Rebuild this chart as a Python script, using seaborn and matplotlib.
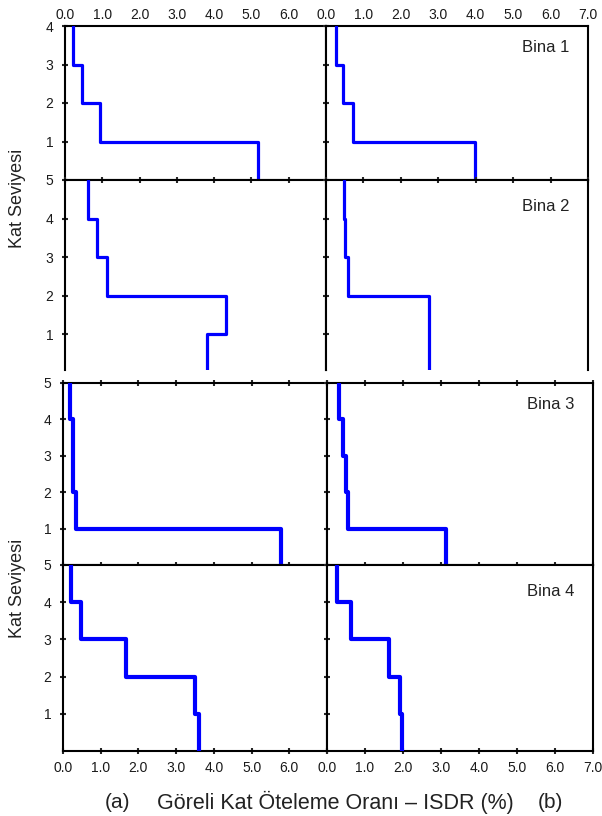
import matplotlib
matplotlib.use("Agg")
import matplotlib.pyplot as plt
import seaborn as sns
import numpy as np
import pandas as pd

# ISDR (%) per story, from story 1 (bottom) upwards
bina1_a = [5.18, 0.94, 0.46, 0.22]
bina1_b = [3.99, 0.71, 0.45, 0.28]
bina2_a = [3.80, 4.33, 1.12, 0.86, 0.62]
bina2_b = [2.74, 2.74, 0.59, 0.52, 0.47]
bina3_a = [5.79, 0.35, 0.27, 0.27, 0.18]
bina3_b = [3.12, 0.56, 0.50, 0.41, 0.32]
bina4_a = [3.60, 3.51, 1.66, 0.49, 0.20]
bina4_b = [1.98, 1.91, 1.64, 0.63, 0.26]

bina_names = ["Bina 1", "Bina 2", "Bina 3", "Bina 4"]
x_ticks = [0, 1, 2, 3, 4, 5, 6, 7]
x_tick_labels = ["0.0", "1.0", "2.0", "3.0", "4.0", "5.0", "6.0", "7.0"]
y_label = "Kat Seviyesi"
x_label = "Göreli Kat Öteleme Oranı – ISDR (%)"


def profile(drift):
    # step profile: each story's drift held between its floor levels
    n = len(drift)
    x = np.repeat(drift[::-1], 2)
    y = np.repeat(np.arange(n, -1, -1), 2)[1:-1]
    return pd.DataFrame({"isdr": x, "kat": y})


sns.set_theme(style="ticks")
plt.rcParams["font.family"] = ["Liberation Sans", "DejaVu Sans"]
plt.rcParams["axes.linewidth"] = 1.5

W, H = 602, 816
fig = plt.figure(figsize=(W / 100, H / 100), dpi=100)


def px_axes(x0, y0, x1, y1):
    return fig.add_axes([x0 / W, 1 - y1 / H, (x1 - x0) / W, (y1 - y0) / H])


rows = [
    dict(data=(bina1_a, bina1_b), top=26, bot=180, cols=[(65, 326), (326, 588)],
         ylim=(0, 4), yticks=[1, 2, 3, 4], lw=2.3, mode="first"),
    dict(data=(bina2_a, bina2_b), top=180, bot=370, cols=[(65, 326), (326, 588)],
         ylim=(0.08, 5), yticks=[1, 2, 3, 4, 5], lw=2.3, mode="open"),
    dict(data=(bina3_a, bina3_b), top=383, bot=565, cols=[(63, 327), (327, 593)],
         ylim=(0, 5), yticks=[1, 2, 3, 4, 5], lw=3.0, mode="mid"),
    dict(data=(bina4_a, bina4_b), top=565, bot=751, cols=[(63, 327), (327, 593)],
         ylim=(0, 5), yticks=[1, 2, 3, 4, 5], lw=3.0, mode="last"),
]

tick_color = "#1a1a1a"
text_color = "#222222"

for r, row in enumerate(rows):
    for c, (x0, x1) in enumerate(row["cols"]):
        ax = px_axes(x0, row["top"], x1, row["bot"])
        df = profile(row["data"][c])
        sns.lineplot(data=df, x="isdr", y="kat", sort=False, estimator=None,
                     color="#0000ff", lw=row["lw"], ax=ax, zorder=3)
        ax.set_xlim(0, 7)
        ax.set_ylim(*row["ylim"])
        ax.set_xlabel("")
        ax.set_ylabel("")
        for s in ax.spines.values():
            s.set_color("black")
            s.set_linewidth(1.5)

        ax.set_xticks(x_ticks)
        labels = x_tick_labels if c == 1 else x_tick_labels[:-1] + [""]
        ax.set_xticklabels(labels)
        ax.set_yticks(row["yticks"])
        ax.set_yticklabels([str(v) for v in row["yticks"]] if c == 0 else [])

        ax.tick_params(axis="y", which="both", direction="inout", length=5, width=1.5,
                       left=True, right=False, labelleft=(c == 0), pad=6,
                       labelsize=10, labelcolor=tick_color)

        mode = row["mode"]
        if mode == "first":
            # labels on top, no tick marks there
            ax.tick_params(axis="x", length=0, top=True, bottom=False,
                           labeltop=True, labelbottom=False,
                           pad=3, labelsize=10, labelcolor=tick_color)
        elif mode == "open":
            ax.tick_params(axis="x", direction="inout", length=5, width=1.5,
                           top=True, bottom=False, labeltop=False, labelbottom=False)
            ax.spines["bottom"].set_visible(False)
        elif mode == "mid":
            ax.tick_params(axis="x", direction="inout", length=5, width=1.5,
                           top=True, bottom=True, labeltop=False, labelbottom=False)
        else:
            ax.tick_params(axis="x", direction="inout", length=5, width=1.5,
                           top=False, bottom=True, labeltop=False, labelbottom=True,
                           pad=5, labelsize=10, labelcolor=tick_color)

        if c == 1:
            ax.text(0.84, 0.86 if r != 2 else 0.88, bina_names[r], transform=ax.transAxes,
                    ha="center", va="center", fontsize=12, color=text_color)

# axis titles
fig.text(18 / W, 1 - 198 / H, y_label, rotation=90, ha="center", va="center",
         fontsize=13, color=text_color)
fig.text(18 / W, 1 - 588 / H, y_label, rotation=90, ha="center", va="center",
         fontsize=13, color=text_color)
fig.text(117 / W, 1 - 802 / H, "(a)", ha="center", va="center", fontsize=15, color=text_color)
fig.text(335 / W, 1 - 802 / H, x_label, ha="center", va="center", fontsize=15.5, color=text_color)
fig.text(550 / W, 1 - 802 / H, "(b)", ha="center", va="center", fontsize=15, color=text_color)

fig.savefig("out.png", dpi=100, facecolor="white")
